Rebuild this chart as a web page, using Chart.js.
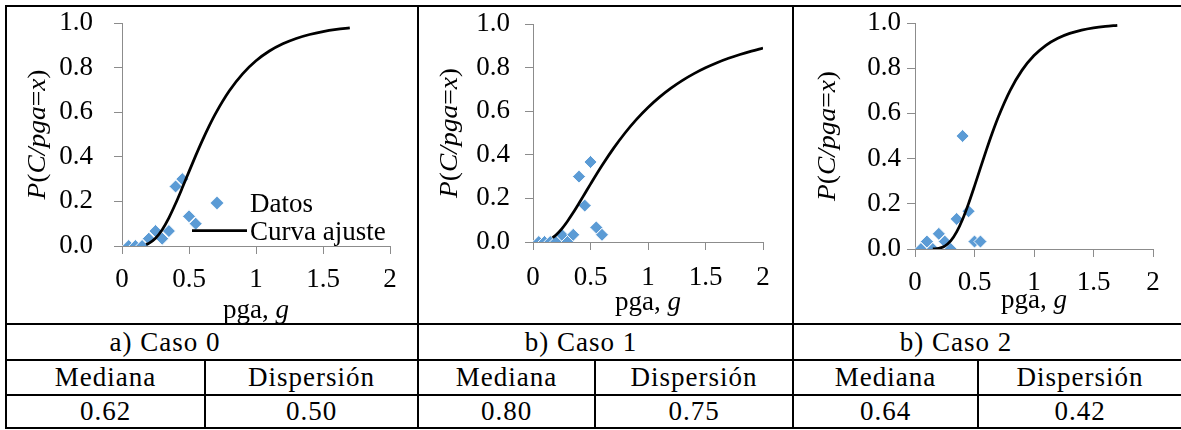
<!DOCTYPE html>
<html>
<head>
<meta charset="utf-8">
<script src="https://cdn.jsdelivr.net/npm/chart.js@4/dist/chart.umd.min.js"></script>
<style>
  html, body { margin: 0; padding: 0; background: #fff; }
  #page { position: relative; width: 1181px; height: 430px; overflow: hidden; color: #000;
          font-family: "Liberation Serif", "Times New Roman", serif; }
  .hl { position: absolute; background: #000; height: 2px; }
  .vl { position: absolute; background: #000; width: 2px; }
  .cell { position: absolute; display: flex; align-items: center; justify-content: center;
          font-size: 27px; letter-spacing: 1px; white-space: nowrap; }
  canvas { position: absolute; }
</style>
</head>
<body>
<div id="page"></div>
<script>
// ---- data ----
const xTickValues = [0, 0.5, 1, 1.5, 2];
const xTickLabels = ['0', '0.5', '1', '1.5', '2'];
const yTickValues = [0, 0.2, 0.4, 0.6, 0.8, 1.0];
const yTickLabels = ['0.0', '0.2', '0.4', '0.6', '0.8', '1.0'];

const caseTitles   = ['a) Caso 0', 'b) Caso 1', 'b) Caso 2'];
const headMediana  = 'Mediana';
const headDisp     = 'Dispersión';
const medianas     = ['0.62', '0.80', '0.64'];
const dispersiones = ['0.50', '0.75', '0.42'];

// Caso 0
const pgaDatos0  = [0.05, 0.10, 0.15, 0.20, 0.25, 0.30, 0.35, 0.40, 0.45, 0.50, 0.55];
const probDatos0 = [0, 0, 0, 0.033, 0.067, 0.033, 0.067, 0.267, 0.300, 0.133, 0.100];
const pgaCurva0  = [0.18, 0.20, 0.25, 0.30, 0.35, 0.40, 0.45, 0.50, 0.55, 0.60, 0.65, 0.70, 0.80, 0.90, 1.00, 1.10, 1.20, 1.30, 1.40, 1.50, 1.60, 1.70];
const probCurva0 = [0.0067, 0.0118, 0.0346, 0.0733, 0.1264, 0.1904, 0.2608, 0.3335, 0.4053, 0.4739, 0.5377, 0.5959, 0.6949, 0.7720, 0.8305, 0.8743, 0.9067, 0.9307, 0.9483, 0.9614, 0.9710, 0.9782];

// Caso 1
const pgaDatos1  = [0.05, 0.10, 0.15, 0.20, 0.25, 0.30, 0.35, 0.40, 0.45, 0.50, 0.55, 0.60];
const probDatos1 = [0, 0, 0, 0, 0.033, 0, 0.033, 0.300, 0.167, 0.367, 0.067, 0.033];
const pgaCurva1  = [0.17, 0.20, 0.25, 0.30, 0.35, 0.40, 0.45, 0.50, 0.60, 0.70, 0.80, 0.90, 1.00, 1.10, 1.20, 1.30, 1.40, 1.50, 1.60, 1.70, 1.80, 1.90, 2.00];
const probCurva1 = [0.0195, 0.0323, 0.0605, 0.0955, 0.1352, 0.1777, 0.2215, 0.2654, 0.3506, 0.4293, 0.5000, 0.5624, 0.6170, 0.6644, 0.7056, 0.7413, 0.7722, 0.7990, 0.8223, 0.8426, 0.8602, 0.8756, 0.8891];

// Caso 2
const pgaDatos2  = [0.05, 0.10, 0.15, 0.20, 0.25, 0.30, 0.35, 0.40, 0.45, 0.50, 0.55];
const probDatos2 = [0, 0.033, 0, 0.067, 0.033, 0, 0.133, 0.500, 0.167, 0.033, 0.033];
const pgaCurva2  = [0.15, 0.20, 0.25, 0.30, 0.35, 0.40, 0.45, 0.50, 0.55, 0.60, 0.65, 0.70, 0.80, 0.90, 1.00, 1.10, 1.20, 1.30, 1.40, 1.50, 1.60, 1.70];
const probCurva2 = [0.0003, 0.0028, 0.0126, 0.0356, 0.0754, 0.1316, 0.2009, 0.2783, 0.3591, 0.4389, 0.5147, 0.5845, 0.7024, 0.7915, 0.8560, 0.9014, 0.9328, 0.9542, 0.9688, 0.9787, 0.9854, 0.9900];

const legendLabels = ['Datos', 'Curva ajuste'];

// axis titles with mixed upright / italic runs
const yTitleParts = [['P', 1], ['(', 0], ['C', 1], ['/', 1], ['pga', 1], ['=', 0], ['x', 1], [')', 0]];
const xTitleParts = [['pga, ', 0], ['g', 1]];

// ---- styling / layout ----
const FONT = '"Liberation Serif", "Times New Roman", serif';
const AXIS_GRAY = '#8c8c8c';
const BLUE = '#5b9bd5';

const panels = [
  { x: pgaDatos0, y: probDatos0, cx: pgaCurva0, cy: probCurva0, legend: true,
    left: 7, top: 7, w: 410, h: 316, yAxisW: 115, xAxisH: 77, padTop: 16, padRight: 27,
    yPad: 21, xPad: 10, yTitleDx: -84, xTitleDy: 72 },
  { x: pgaDatos1, y: probDatos1, cx: pgaCurva1, cy: probCurva1, legend: false,
    left: 419, top: 7, w: 373, h: 316, yAxisW: 114, xAxisH: 81, padTop: 17, padRight: 29,
    yPad: 15, xPad: 12, yTitleDx: -83, xTitleDy: 68 },
  { x: pgaDatos2, y: probDatos2, cx: pgaCurva2, cy: probCurva2, legend: false,
    left: 794, top: 7, w: 387, h: 316, yAxisW: 121, xAxisH: 74, padTop: 16, padRight: 28,
    yPad: 6, xPad: 10, yTitleDx: -87, xTitleDy: 59 }
];

const page = document.getElementById('page');

function addLine(cls, l, t, len) {
  const d = document.createElement('div');
  d.className = cls;
  d.style.left = l + 'px';
  d.style.top = t + 'px';
  if (cls === 'hl') d.style.width = len + 'px'; else d.style.height = len + 'px';
  page.appendChild(d);
}
function addCell(text, l, t, w, h) {
  const d = document.createElement('div');
  d.className = 'cell';
  d.style.left = l + 'px'; d.style.top = t + 'px';
  d.style.width = w + 'px'; d.style.height = h + 'px';
  d.style.fontFamily = FONT;
  d.textContent = text;
  page.appendChild(d);
}

// table grid and cells
addLine('hl', 5, 5, 1176);
addLine('hl', 5, 323, 1176);
addLine('hl', 5, 359, 1176);
addLine('hl', 5, 394, 1176);
addLine('hl', 5, 427, 1176);
addLine('vl', 5, 5, 424);
addLine('vl', 417, 5, 424);
addLine('vl', 792, 5, 424);
const subSep = [204, 594, 977];
subSep.forEach(x => addLine('vl', x, 359, 70));

const colBounds = [[7, 417], [419, 792], [794, 1181]];
const titleCenters = [165, 581, 956];
caseTitles.forEach((t, i) => addCell(t, titleCenters[i] - 100, 325, 200, 34));
colBounds.forEach(([a, b], i) => {
  const s = subSep[i];
  addCell(headMediana, a, 361, s - a, 33);
  addCell(headDisp, s + 2, 361, b - s - 2, 33);
  addCell(medianas[i], a, 396, s - a, 31);
  addCell(dispersiones[i], s + 2, 396, b - s - 2, 31);
});

function pts(xs, ys) { return xs.map((v, i) => ({ x: v, y: ys[i] })); }

function drawRich(ctx, parts, size, cx, y, baseline) {
  ctx.textBaseline = baseline;
  ctx.textAlign = 'left';
  const fonts = parts.map(p => (p[1] ? 'italic ' : '') + size + 'px ' + FONT);
  let total = 0;
  const widths = parts.map((p, i) => { ctx.font = fonts[i]; const w = ctx.measureText(p[0]).width; total += w; return w; });
  let x = cx - total / 2;
  parts.forEach((p, i) => { ctx.font = fonts[i]; ctx.fillText(p[0], x, y); x += widths[i]; });
}

function diamond(ctx, x, y, r) {
  ctx.beginPath();
  ctx.moveTo(x - r, y); ctx.lineTo(x, y - r); ctx.lineTo(x + r, y); ctx.lineTo(x, y + r);
  ctx.closePath();
  ctx.fillStyle = BLUE;
  ctx.fill();
}

panels.forEach(p => {
  const canvas = document.createElement('canvas');
  canvas.width = p.w; canvas.height = p.h;
  canvas.style.left = p.left + 'px'; canvas.style.top = p.top + 'px';
  canvas.style.width = p.w + 'px'; canvas.style.height = p.h + 'px';
  page.appendChild(canvas);

  const titles = {
    id: 'axisTitles',
    afterDraw(chart) {
      const ctx = chart.ctx, a = chart.chartArea;
      // vertical title, slightly elongated along the axis
      ctx.save();
      ctx.fillStyle = '#000';
      ctx.translate(a.left + p.yTitleDx, (a.top + a.bottom) / 2);
      ctx.rotate(-Math.PI / 2);
      ctx.scale(1.1, 1);
      drawRich(ctx, yTitleParts, 25, 0, 0, 'middle');
      ctx.restore();
      ctx.save();
      ctx.fillStyle = '#000';
      drawRich(ctx, xTitleParts, 27, (a.left + a.right) / 2, a.bottom + p.xTitleDy, 'alphabetic');
      ctx.restore();
      if (p.legend) {
        ctx.save();
        diamond(ctx, a.left + 95, a.top + 180, 6.5);
        ctx.strokeStyle = '#000';
        ctx.lineWidth = 2.75;
        ctx.beginPath();
        ctx.moveTo(a.left + 70, a.top + 207.7);
        ctx.lineTo(a.left + 125, a.top + 207.7);
        ctx.stroke();
        ctx.fillStyle = '#000';
        ctx.font = '27px ' + FONT;
        ctx.textBaseline = 'alphabetic';
        ctx.textAlign = 'left';
        ctx.fillText(legendLabels[0], a.left + 128, a.top + 189);
        ctx.fillText(legendLabels[1], a.left + 128, a.top + 217);
        ctx.restore();
      }
    }
  };

  new Chart(canvas, {
    type: 'scatter',
    data: {
      datasets: [
        { label: legendLabels[0], data: pts(p.x, p.y), pointStyle: 'rectRot', pointRadius: 6.5,
          pointHoverRadius: 6.5, backgroundColor: BLUE, borderColor: 'rgba(255,255,255,0.9)',
          borderWidth: 1, showLine: false, order: 1 },
        { label: legendLabels[1], data: pts(p.cx, p.cy), showLine: true, borderColor: '#000',
          borderWidth: 2.75, pointRadius: 0, cubicInterpolationMode: 'monotone', fill: false, order: 0 }
      ]
    },
    options: {
      responsive: false, animation: false, devicePixelRatio: 1,
      layout: { padding: { top: p.padTop, right: p.padRight, left: 0, bottom: 0 } },
      plugins: { legend: { display: false }, tooltip: { enabled: false } },
      scales: {
        x: {
          type: 'linear', min: 0, max: 2,
          afterFit(s) { s.height = p.xAxisH; s.paddingLeft = 0; s.paddingRight = 0; },
          afterBuildTicks(s) { s.ticks = xTickValues.map(v => ({ value: v })); },
          ticks: { color: '#000', font: { family: FONT, size: 27 }, padding: p.xPad,
                   maxRotation: 0, callback: (v, i) => xTickLabels[i] },
          grid: { drawOnChartArea: false, drawTicks: true, tickLength: 8, color: AXIS_GRAY },
          border: { display: true, color: AXIS_GRAY, width: 1 }
        },
        y: {
          type: 'linear', min: 0, max: 1,
          afterFit(s) { s.width = p.yAxisW; s.paddingTop = 0; s.paddingBottom = 0; },
          afterBuildTicks(s) { s.ticks = yTickValues.map(v => ({ value: v })); },
          ticks: { color: '#000', font: { family: FONT, size: 27 }, padding: p.yPad,
                   callback: (v, i) => yTickLabels[i] },
          grid: { drawOnChartArea: false, drawTicks: true, tickLength: 8, color: AXIS_GRAY },
          border: { display: true, color: AXIS_GRAY, width: 1 }
        }
      }
    },
    plugins: [titles]
  });
});
</script>
</body>
</html>
